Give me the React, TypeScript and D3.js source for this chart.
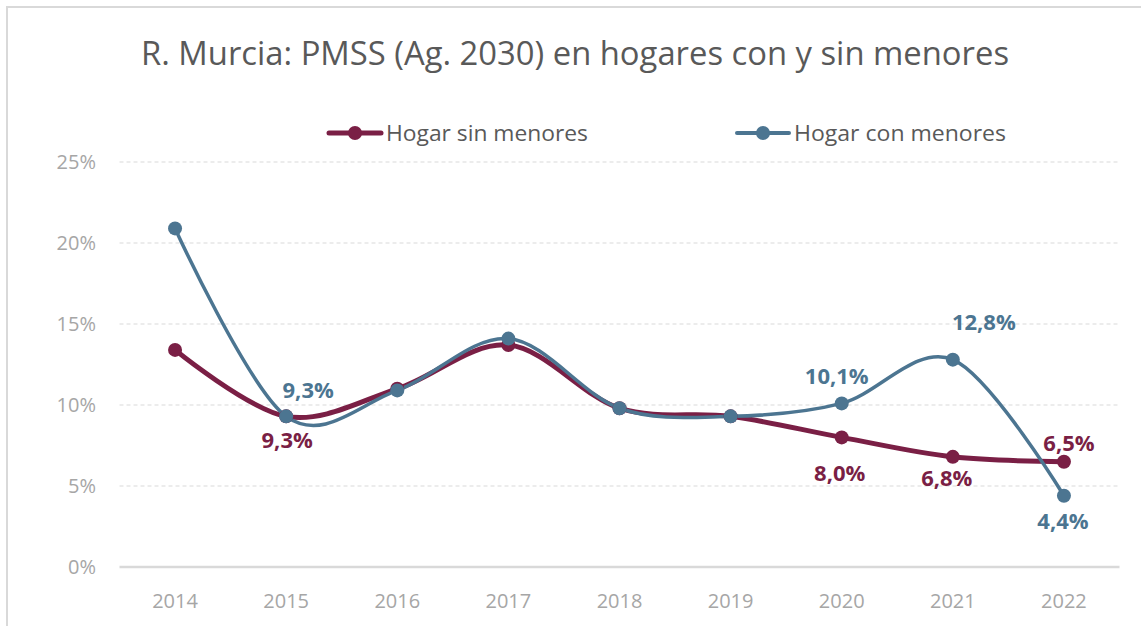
import React from "react";
import * as d3 from "d3";

const years = ["2014", "2015", "2016", "2017", "2018", "2019", "2020", "2021", "2022"];
const sinMenores = [13.4, 9.3, 11.0, 13.7, 9.8, 9.3, 8.0, 6.8, 6.5];
const conMenores = [20.9, 9.3, 10.9, 14.1, 9.8, 9.3, 10.1, 12.8, 4.4];
const yTicks = [0, 5, 10, 15, 20, 25];
// labelled points: [index, dx, dy]
const sinLabels: [number, number, number][] = [
  [1, 1, 32],
  [6, -2, 44],
  [7, -6, 29],
  [8, 5, -11],
];
const conLabels: [number, number, number][] = [
  [1, 22, -18],
  [6, -5, -19],
  [7, 31, -30],
  [8, -1, 33],
];

const W = 1141;
const H = 626;
const C_SIN = "#7a1f45";
const C_CON = "#4c7591";

export default function App() {
  const x = d3.scaleBand<string>().domain(years).range([119.5, 1119.5]);
  const y = d3.scaleLinear().domain([0, 25]).range([567, 162]);
  const cx = (i: number) => (x(years[i]) as number) + x.bandwidth() / 2;
  const line = d3
    .line<number>()
    .x((_, i) => cx(i))
    .y((d) => y(d))
    .curve(d3.curveCardinal.tension(0));
  const fmt = (v: number) => v.toFixed(1).replace(".", ",") + "%";
  const font = "'Open Sans', sans-serif";

  return (
    <svg
      width={W}
      height={H}
      style={{ position: "absolute", left: 0, top: 0, background: "#fff" }}
      fontFamily={font}
    >
      <rect x={7} y={7} width={W + 10} height={H + 10} fill="#fff" stroke="#d9d9d9" strokeWidth={2} />
      <text x={141} y={65} fontSize={33} fill="#595959" textLength={868} lengthAdjust="spacingAndGlyphs">
        R. Murcia: PMSS (Ag. 2030) en hogares con y sin menores
      </text>

      {/* legend */}
      <g>
        <line x1={329} x2={381} y1={133} y2={133} stroke={C_SIN} strokeWidth={5} strokeLinecap="round" />
        <circle cx={355} cy={133} r={7} fill={C_SIN} />
        <text x={386} y={141} fontSize={22} fill="#595959" textLength={202} lengthAdjust="spacingAndGlyphs">
          Hogar sin menores
        </text>
        <line x1={737} x2={789} y1={133} y2={133} stroke={C_CON} strokeWidth={4} strokeLinecap="round" />
        <circle cx={763} cy={133} r={7} fill={C_CON} />
        <text x={794} y={141} fontSize={22} fill="#595959" textLength={212} lengthAdjust="spacingAndGlyphs">
          Hogar con menores
        </text>
      </g>

      {/* grid */}
      {yTicks.map((t) => (
        <g key={t}>
          {t > 0 ? (
            <line x1={119.5} x2={1119.5} y1={y(t)} y2={y(t)} stroke="#d9d9d9" strokeWidth={1.2} strokeDasharray="4 3" />
          ) : (
            <line x1={119.5} x2={1119.5} y1={y(t)} y2={y(t)} stroke="#d9d9d9" strokeWidth={2.5} />
          )}
          <text x={96} y={y(t) + 7} fontSize={20} fill="#a6a6a6" textAnchor="end">
            {t}%
          </text>
        </g>
      ))}
      {years.map((yr, i) => (
        <text key={yr} x={cx(i)} y={608} fontSize={20} fill="#a6a6a6" textAnchor="middle">
          {yr}
        </text>
      ))}

      {/* series */}
      <path d={line(sinMenores) || ""} fill="none" stroke={C_SIN} strokeWidth={5} />
      <path d={line(conMenores) || ""} fill="none" stroke={C_CON} strokeWidth={3.5} />
      {sinMenores.map((v, i) => (
        <circle key={"s" + i} cx={cx(i)} cy={y(v)} r={7} fill={C_SIN} />
      ))}
      {conMenores.map((v, i) => (
        <circle key={"c" + i} cx={cx(i)} cy={y(v)} r={7} fill={C_CON} />
      ))}

      {sinLabels.map(([i, dx, dy]) => (
        <text key={"sl" + i} x={cx(i) + dx} y={y(sinMenores[i]) + dy} fontSize={22} fontWeight={700} fill={C_SIN} textAnchor="middle">
          {fmt(sinMenores[i])}
        </text>
      ))}
      {conLabels.map(([i, dx, dy]) => (
        <text key={"cl" + i} x={cx(i) + dx} y={y(conMenores[i]) + dy} fontSize={22} fontWeight={700} fill={C_CON} textAnchor="middle">
          {fmt(conMenores[i])}
        </text>
      ))}
    </svg>
  );
}
